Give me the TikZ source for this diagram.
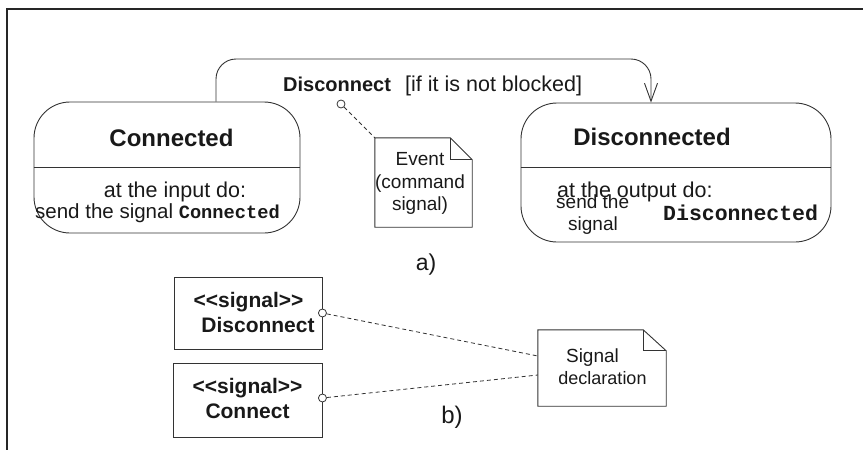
\documentclass[tikz,border=0pt]{standalone}
\usepackage{fontspec}
\setmainfont{Liberation Sans}
\setmonofont{Liberation Mono}
\usetikzlibrary{arrows.meta,calc}
\newcommand{\fsz}[1]{\fontsize{#1}{#1}\selectfont}
\begin{document}
\begin{tikzpicture}[x=1pt,y=-1pt,
  ln/.style={draw=black!80, line width=0.9pt},
  statebox/.style={ln, rounded corners=36pt, inner sep=0pt},
  sigbox/.style={ln, inner sep=0pt},
  notebox/.style={inner sep=0pt},
  port/.style={circle, draw=black!80, line width=0.8pt, fill=white, inner sep=0pt, minimum size=8pt},
  txt/.style={inner sep=0pt, text=black!90},
  dashln/.style={draw=black!80, line width=0.8pt, dash pattern=on 4pt off 3pt},
  title/.style={txt, font=\fsz{24}\bfseries},
  body/.style={txt, font=\fsz{21.5}},
  small/.style={txt, font=\fsz{19}},
  sigtxt/.style={txt, font=\fsz{21}\bfseries},
]
\useasboundingbox (0,0) rectangle (863,450);
% frame
\draw[line width=2pt, black!85] (7,452) -- (7,9) -- (866,9);

% a) states
\node[statebox, minimum width=266pt, minimum height=131pt] (conn) at (167,167.5) {};
\node[statebox, minimum width=310pt, minimum height=139pt] (disc) at (676,172.5) {};
\draw[ln] (conn.west |- 0,167) -- (conn.east |- 0,167);
\draw[ln] (disc.west |- 0,167) -- (disc.east |- 0,167);

\node[title, anchor=base] (ctitle) at (171.5,146) {Connected};
\node[body, anchor=base] (cin) at (175,197) {at the input do:};
\node[txt, anchor=base west, font=\fsz{20.5}] (csend) at (35,218) {send the signal \texttt{\fsz{18.7}\bfseries Connected}};

\node[title, anchor=base] (dtitle) at (652,145) {Disconnected};
\node[body, anchor=base west] (dout) at (557,197) {at the output do:};
\node[small, anchor=base west] (dsend) at (556,208) {send the};
\node[small, anchor=base west] (dsig) at (568,230) {signal};
\node[txt, anchor=base west, font=\ttfamily\fsz{21.5}\bfseries] (dmono) at (663,220) {Disconnected};

% transition
\coordinate (ta) at (216,59);
\coordinate (tb) at (651,59);
\draw[ln, rounded corners=20pt, -{Straight Barb[length=18pt,width=13pt]}]
  (ta |- conn.north) -- (ta) -- (tb) -- (tb |- disc.north);
\node[txt, anchor=base west, font=\fsz{20}\bfseries] (evname) at (283,91) {Disconnect};
\node[txt, anchor=base west, font=\fsz{21.5}] (guard) at (405,91) {[if it is not blocked]};

% event note
\node[notebox, minimum width=97pt, minimum height=89pt] (ev) at (423.5,182.5) {};
\draw[ln] (ev.north west) -- ([xshift=-22pt]ev.north east) -- ([yshift=-22pt]ev.north east)
  -- (ev.south east) -- (ev.south west) -- cycle;
\draw[ln] ([xshift=-22pt]ev.north east) -- ([xshift=-22pt,yshift=-22pt]ev.north east) -- ([yshift=-22pt]ev.north east);
\node[small, anchor=base] (ev1) at (420,165) {Event};
\node[small, anchor=base] (ev2) at (420,188) {(command};
\node[small, anchor=base] (ev3) at (420,210) {signal)};
\node[port] (c1) at (341,104) {};
\draw[dashln] (c1) -- (ev.north west);

\node[txt, anchor=base, font=\fsz{23}] (la) at (426,270) {a)};

% b) signals
\node[sigbox, minimum width=148pt, minimum height=72pt] (s1) at (248,313) {};
\node[sigtxt, anchor=base] (s1a) at (248.5,307) {<{}<signal>{}>};
\node[sigtxt, anchor=base] (s1b) at (258,332) {Disconnect};
\node[sigbox, minimum width=149pt, minimum height=74pt] (s2) at (247.5,400) {};
\node[sigtxt, anchor=base] (s2a) at (247.5,393) {<{}<signal>{}>};
\node[sigtxt, anchor=base] (s2b) at (247.5,418) {Connect};
\node[port] (p1) at (s1.east) {};
\node[port] (p2) at ([yshift=2pt]s2.east) {};

\node[notebox, minimum width=128pt, minimum height=76pt] (sn) at (602,368) {};
\draw[ln] (sn.north west) -- ([xshift=-23pt]sn.north east) -- ([yshift=-21pt]sn.north east)
  -- (sn.south east) -- (sn.south west) -- cycle;
\draw[ln] ([xshift=-23pt]sn.north east) -- ([xshift=-23pt,yshift=-21pt]sn.north east) -- ([yshift=-21pt]sn.north east);
\node[small, anchor=base] (sn1) at (592.5,362) {Signal};
\node[small, font=\fsz{18}, anchor=base] (sn2) at (602.5,384) {declaration};
\draw[dashln] (p1) -- ([yshift=12pt]sn.west);
\draw[dashln] (p2) -- ([yshift=-7pt]sn.west);

\node[txt, anchor=base, font=\fsz{24}] (lb) at (452,423) {b)};
\end{tikzpicture}
\end{document}
